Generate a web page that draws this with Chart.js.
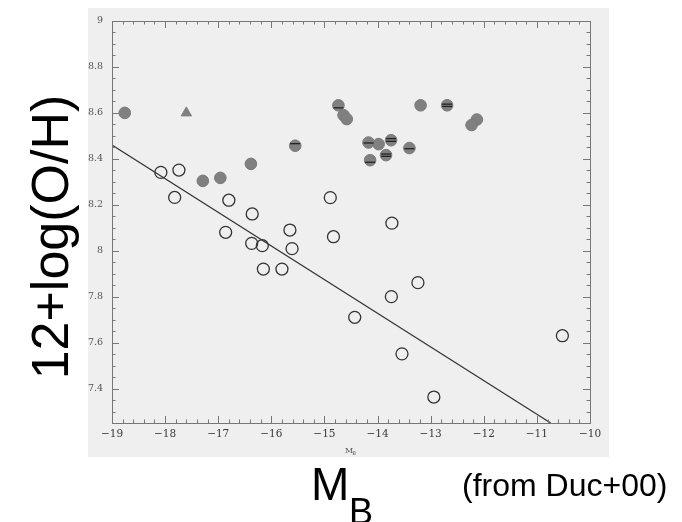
<!DOCTYPE html>
<html lang="en">
<head>
    <meta charset="UTF-8">
    <title>12+log(O/H) vs M_B</title>
    <script src="https://cdn.jsdelivr.net/npm/chart.js"></script>
    <style>
        body { margin: 0; background: #fff; }
        .chart-container { width: 682px; height: 522px; }
    </style>
</head>
<body>
    <div class="chart-container">
        <canvas id="ohChart" width="682" height="522"></canvas>
    </div>
    <script>
        // open circles
        var openX = [-18.08, -17.74, -17.82, -16.80, -16.36, -16.86, -16.37, -16.17, -15.65, -15.61,
                     -16.15, -15.80, -14.89, -14.83, -13.73, -14.43, -13.74, -13.24, -13.54, -12.94, -10.52];
        var openY = [8.341, 8.351, 8.232, 8.220, 8.160, 8.080, 8.032, 8.022, 8.090, 8.009,
                     7.920, 7.920, 8.231, 8.061, 8.120, 7.710, 7.800, 7.861, 7.551, 7.363, 7.630];
        // filled grey circles
        var filledX = [-18.76, -15.55, -16.385, -17.29, -16.96, -14.737, -14.64, -14.58, -13.19, -12.69,
                       -12.13, -12.23, -14.17, -13.98, -13.745, -13.84, -14.14, -13.40];
        var filledY = [8.600, 8.457, 8.378, 8.304, 8.317, 8.633, 8.590, 8.573, 8.633, 8.633,
                       8.571, 8.547, 8.471, 8.464, 8.481, 8.416, 8.394, 8.447];
        // dark bars drawn over some filled points
        var barX = [-15.55, -14.17, -13.745, -13.745, -13.84, -13.84, -14.14, -13.40, -12.69, -12.69, -14.737];
        var barY = [8.466, 8.469, 8.488, 8.476, 8.421, 8.411, 8.385, 8.444, 8.638, 8.628, 8.622];
        // triangle
        var triX = [-17.60];
        var triY = [8.600];
        // fitted line
        var fitX = [-19, -10.74];
        var fitY = [8.46, 7.25];

        var xTicks = [-19, -18, -17, -16, -15, -14, -13, -12, -11, -10];
        var yTicks = [7.4, 7.6, 7.8, 8, 8.2, 8.4, 8.6, 8.8, 9];

        function pts(xs, ys) {
            return xs.map(function (x, i) { return { x: x, y: ys[i] }; });
        }

        var framePlugin = {
            id: 'frame',
            beforeDraw: function (chart) {
                var ctx = chart.ctx;
                ctx.save();
                ctx.fillStyle = '#efefef';
                ctx.fillRect(88, 8, 521, 449);
                ctx.restore();
            },
            afterDatasetsDraw: function (chart) {
                var ctx = chart.ctx, a = chart.chartArea;
                var xs = chart.scales.x, ys = chart.scales.y;
                ctx.save();
                ctx.strokeStyle = '#777';
                ctx.lineWidth = 1;
                ctx.strokeRect(a.left + 0.5, a.top + 0.5, a.right - a.left, a.bottom - a.top);
                ctx.beginPath();
                var v, p, len;
                for (var i = 0; i <= 45; i++) {
                    v = -19 + i * 0.2;
                    p = Math.round(xs.getPixelForValue(v)) + 0.5;
                    len = (i % 5 === 0) ? 7 : 3.5;
                    ctx.moveTo(p, a.bottom); ctx.lineTo(p, a.bottom - len);
                    ctx.moveTo(p, a.top); ctx.lineTo(p, a.top + len);
                }
                for (var j = 0; j <= 35; j++) {
                    v = 7.25 + j * 0.05;
                    p = Math.round(ys.getPixelForValue(v)) + 0.5;
                    len = (Math.abs(v * 5 - Math.round(v * 5)) < 0.01) ? 7 : 3.5;
                    ctx.moveTo(a.left, p); ctx.lineTo(a.left + len, p);
                    ctx.moveTo(a.right, p); ctx.lineTo(a.right - len, p);
                }
                ctx.stroke();

                // small inner axis title
                ctx.fillStyle = '#555';
                ctx.textAlign = 'center';
                ctx.textBaseline = 'middle';
                ctx.font = '8px "DejaVu Serif"';
                ctx.fillText('M', 349, 451);
                ctx.font = '5px "DejaVu Serif"';
                ctx.fillText('B', 354, 454);

                // big labels
                ctx.fillStyle = '#000';
                ctx.font = '52px "Liberation Sans"';
                ctx.translate(54, 237);
                ctx.rotate(-Math.PI / 2);
                ctx.fillText('12+log(O/H)', 0, 0);
                ctx.setTransform(1, 0, 0, 1, 0, 0);
                ctx.textAlign = 'left';
                ctx.textBaseline = 'alphabetic';
                ctx.font = '46px "Liberation Sans"';
                ctx.fillText('M', 311, 500);
                ctx.font = '36px "Liberation Sans"';
                ctx.fillText('B', 349, 524);
                ctx.font = '32px "Liberation Sans"';
                ctx.fillText('(from Duc+00)', 462, 496);
                ctx.restore();
            }
        };

        var ctx = document.getElementById('ohChart').getContext('2d');
        var ohChart = new Chart(ctx, {
            type: 'scatter',
            data: {
                datasets: [{
                    label: 'fit',
                    order: 3,
                    data: pts(fitX, fitY),
                    showLine: true,
                    borderColor: '#333',
                    borderWidth: 1.2,
                    pointRadius: 0,
                    fill: false
                }, {
                    label: 'open',
                    order: 2,
                    data: pts(openX, openY),
                    pointStyle: 'circle',
                    pointRadius: 6,
                    backgroundColor: 'rgba(0,0,0,0)',
                    borderColor: '#333',
                    borderWidth: 1.3
                }, {
                    label: 'filled',
                    order: 1,
                    data: pts(filledX, filledY),
                    pointStyle: 'circle',
                    pointRadius: 5.8,
                    backgroundColor: '#808080',
                    borderColor: '#7a7a7a',
                    borderWidth: 1
                }, {
                    label: 'bars',
                    order: 0,
                    data: pts(barX, barY),
                    pointStyle: 'line',
                    pointRadius: 5,
                    borderColor: '#222',
                    borderWidth: 1.3
                }, {
                    label: 'triangle',
                    order: 1,
                    data: pts(triX, triY),
                    pointStyle: 'triangle',
                    pointRadius: 6,
                    backgroundColor: '#808080',
                    borderColor: '#808080',
                    borderWidth: 1
                }]
            },
            options: {
                responsive: false,
                animation: false,
                events: [],
                layout: { padding: { left: 0, top: 21, right: 92, bottom: 0 } },
                plugins: { legend: { display: false }, tooltip: { enabled: false } },
                scales: {
                    x: {
                        type: 'linear',
                        min: -19,
                        max: -10,
                        grid: { display: false, drawTicks: false },
                        border: { display: false },
                        afterBuildTicks: function (s) { s.ticks = xTicks.map(function (v) { return { value: v }; }); },
                        afterFit: function (s) { s.height = 99; },
                        ticks: {
                            padding: 5,
                            maxRotation: 0,
                            autoSkip: false,
                            color: '#3a3a3a',
                            font: { family: '"DejaVu Serif"', size: 10.5 },
                            callback: function (v) { return String(v).replace('-', '\u2212'); }
                        }
                    },
                    y: {
                        type: 'linear',
                        min: 7.25,
                        max: 9,
                        grid: { display: false, drawTicks: false },
                        border: { display: false },
                        afterBuildTicks: function (s) { s.ticks = yTicks.map(function (v) { return { value: v }; }); },
                        afterFit: function (s) { s.width = 112; },
                        ticks: {
                            padding: 9,
                            autoSkip: false,
                            color: '#555',
                            font: { family: '"DejaVu Serif"', size: 9.5 },
                            callback: function (v) { return String(v); }
                        }
                    }
                }
            },
            plugins: [framePlugin]
        });
    </script>
</body>
</html>
